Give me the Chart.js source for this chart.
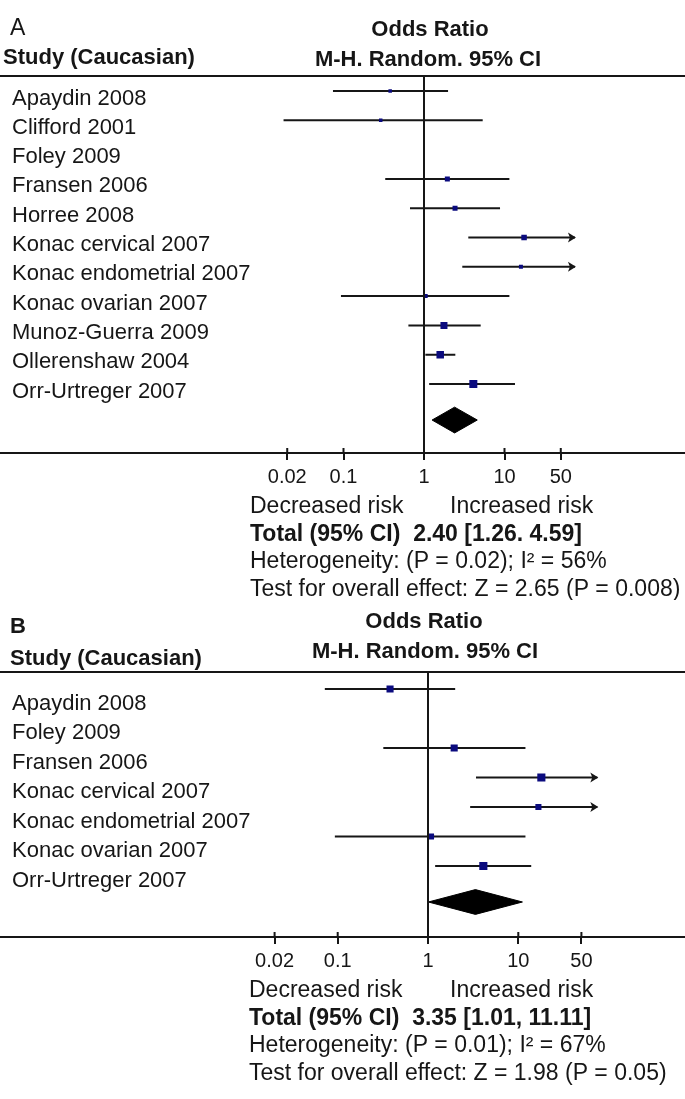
<!DOCTYPE html>
<html><head><meta charset="utf-8">
<script src="https://cdn.jsdelivr.net/npm/chart.js@4.4.1/dist/chart.umd.min.js"></script>
<style>
html,body{margin:0;padding:0;background:#fff;}
#wrap{position:relative;width:685px;height:1099px;overflow:hidden;background:#fff;}
canvas{position:absolute;left:0;}
</style></head><body>
<div id="wrap">
<canvas id="cA" width="685" height="600" style="top:0px"></canvas>
<canvas id="cB" width="685" height="499" style="top:600px"></canvas>
</div>
<script>
// ---------- DATA ----------
const axisTicks = [0.02, 0.1, 1, 10, 50];

// Panel A
const studiesA = ['Apaydin 2008','Clifford 2001','Foley 2009','Fransen 2006','Horree 2008','Konac cervical 2007','Konac endometrial 2007','Konac ovarian 2007','Munoz-Guerra 2009','Ollerenshaw 2004','Orr-Urtreger 2007'];
const orA     = [0.38, 0.29, null, 1.95, 2.43, 17.5, 16.0, 1.05, 1.77, 1.59, 4.10];
const loA     = [0.074, 0.018, null, 0.33, 0.67, 3.55, 2.99, 0.093, 0.64, 1.04, 1.16];
const hiA     = [1.99, 5.36, null, 11.5, 8.8, 86, 86, 11.5, 5.06, 2.45, 13.5];
const weightA = [4.0, 4.0, null, 8.2, 8.2, 9.9, 5.2, 5.2, 16.0, 18.4, 20.9];
const totalA  = [2.40, 1.26, 4.59];
const summaryA = ['Total (95% CI)  2.40 [1.26. 4.59]', 'Heterogeneity: (P = 0.02); I\u00B2 = 56%', 'Test for overall effect: Z = 2.65 (P = 0.008)'];

// Panel B
const studiesB = ['Apaydin 2008','Foley 2009','Fransen 2006','Konac cervical 2007','Konac endometrial 2007','Konac ovarian 2007','Orr-Urtreger 2007'];
const orB     = [0.38, null, 1.95, 18.0, 16.7, 1.08, 4.10];
const loB     = [0.072, null, 0.32, 3.4, 2.93, 0.093, 1.2];
const hiB     = [2.0, null, 12.0, 95, 95, 12.0, 13.9];
const weightB = [16.4, null, 16.4, 21.5, 12.1, 12.1, 21.5];
const totalB  = [3.35, 1.01, 11.11];
const summaryB = ['Total (95% CI)  3.35 [1.01, 11.11]', 'Heterogeneity: (P = 0.01); I\u00B2 = 67%', 'Test for overall effect: Z = 1.98 (P = 0.05)'];

// ---------- STYLE / BUILD ----------
const FONT = 'Liberation Sans, Arial, sans-serif';
const INK = '#161616';
const SQ = '#0b0b7e';
const X_MIN = 0.015, X_MAX = 75;

function buildForest(id, d, lay) {
  const L = lay.onePx + lay.decade * Math.log10(X_MIN);
  const R = lay.onePx + lay.decade * Math.log10(X_MAX);
  const yMin = (lay.top - lay.row0) / lay.step;
  const yMax = (lay.axisY - lay.row0) / lay.step;
  const datasets = [];
  d.studies.forEach((s, i) => {
    if (d.lo[i] == null) return;
    datasets.push({type:'line', data:[{x:d.lo[i], y:i},{x:d.hi[i], y:i}], borderColor:INK, borderWidth:2,
      pointRadius:0, pointHoverRadius:0, showLine:true, fill:false, order:3});
  });
  const idx = d.or.map((v,i)=> v==null?null:i).filter(v=>v!==null);
  datasets.push({type:'scatter', data: idx.map(i=>({x:d.or[i], y:i})), pointStyle:'rect',
    pointRadius: idx.map(i=> 1.75*Math.sqrt(d.weight[i]) / Math.SQRT2),
    pointHoverRadius: idx.map(i=> 1.75*Math.sqrt(d.weight[i]) / Math.SQRT2),
    backgroundColor:SQ, borderWidth:0, order:1});
  const dy = lay.diamondRow, h = lay.diamondHalf;
  datasets.push({type:'line', data:[{x:d.total[1],y:dy},{x:d.total[0],y:dy-h},{x:d.total[2],y:dy},{x:d.total[0],y:dy+h},{x:d.total[1],y:dy}],
    borderColor:'#000', backgroundColor:'#000', borderWidth:1, pointRadius:0, fill:'shape', tension:0, order:2});

  const deco = {
    id:'deco'+id,
    afterDraw(chart) {
      const ctx = chart.ctx, ca = chart.chartArea, xs = chart.scales.x, ys = chart.scales.y;
      ctx.save();
      ctx.strokeStyle = INK; ctx.lineWidth = 2;
      ctx.beginPath();
      ctx.moveTo(0, ca.top); ctx.lineTo(chart.width, ca.top);
      ctx.moveTo(0, ca.bottom); ctx.lineTo(chart.width, ca.bottom);
      const x1 = xs.getPixelForValue(1);
      ctx.moveTo(x1, ca.top); ctx.lineTo(x1, ca.bottom);
      axisTicks.forEach(v => { const px = xs.getPixelForValue(v); ctx.moveTo(px, ca.bottom - 5); ctx.lineTo(px, ca.bottom); });
      ctx.stroke();
      ctx.fillStyle = INK;
      d.hi.forEach((v,i) => {
        if (v != null && v > xs.max) {
          const px = xs.getPixelForValue(xs.max), py = ys.getPixelForValue(i);
          ctx.beginPath(); ctx.moveTo(px+1, py); ctx.lineTo(px-7, py-5); ctx.lineTo(px-5, py); ctx.lineTo(px-7, py+5); ctx.closePath(); ctx.fill();
        }
      });
      ctx.fillStyle = INK; ctx.textBaseline = 'alphabetic';
      lay.texts.forEach(t => { ctx.font = t[3]; ctx.textAlign = t[4] || 'left'; ctx.fillText(t[0], t[1], t[2]); });
      const b = ca.bottom;
      ctx.textAlign = 'left';
      ctx.font = '23px ' + FONT;
      ctx.fillText('Decreased risk', lay.textX, b + 60);
      ctx.fillText('Increased risk', lay.incX, b + 60);
      ctx.font = 'bold 23px ' + FONT;
      ctx.fillText(d.summary[0], lay.textX, b + 88);
      ctx.font = '23px ' + FONT;
      ctx.fillText(d.summary[1], lay.textX, b + 115);
      ctx.fillText(d.summary[2], lay.textX, b + 143);
      ctx.restore();
    }
  };

  const H = lay.H;
  return new Chart(document.getElementById(id), {
    type:'scatter',
    data:{datasets},
    options:{
      responsive:false, animation:false, devicePixelRatio:1,
      layout:{padding:{left:lay.padLeft, right:685 - R, top:lay.top, bottom:H - lay.axisY - 40}},
      plugins:{legend:{display:false}, tooltip:{enabled:false}},
      scales:{
        x:{type:'logarithmic', min:X_MIN, max:X_MAX,
          afterBuildTicks: sc => { sc.ticks = axisTicks.map(v=>({value:v})); },
          afterFit: sc => { sc.height = 40; },
          ticks:{callback: v => String(v), font:{family:FONT, size:20}, color:INK, padding:5, autoSkip:false, maxRotation:0, minRotation:0},
          grid:{display:true, drawOnChartArea:false, drawTicks:true, tickLength:7, color:INK, lineWidth:2},
          border:{display:false}},
        y:{type:'linear', reverse:true, min:yMin, max:yMax,
          afterBuildTicks: sc => { sc.ticks = d.studies.map((s,i)=>({value:i})); },
          afterFit: sc => { sc.width = L - lay.padLeft; },
          ticks:{callback: v => d.studies[v], font:{family:FONT, size:22}, color:INK, crossAlign:'far', labelOffset:lay.labelOffset, autoSkip:false, padding:0},
          grid:{display:false}, border:{display:false}}
      }
    },
    plugins:[deco]
  });
}

buildForest('cA', {studies:studiesA, or:orA, lo:loA, hi:hiA, weight:weightA, total:totalA, summary:summaryA}, {
  H:600, top:76, axisY:453, row0:91, step:29.3, onePx:424, decade:80.5, padLeft:12, labelOffset:7.5,
  diamondRow:11.23, diamondHalf:0.44, textX:250, incX:450,
  texts:[
    ['A', 10, 35, '23px ' + FONT],
    ['Odds Ratio', 430, 36, 'bold 22px ' + FONT, 'center'],
    ['Study (Caucasian)', 3, 64, 'bold 22px ' + FONT],
    ['M-H. Random. 95% CI', 428, 66, 'bold 22px ' + FONT, 'center']
  ]
});

buildForest('cB', {studies:studiesB, or:orB, lo:loB, hi:hiB, weight:weightB, total:totalB, summary:summaryB}, {
  H:499, top:72, axisY:337, row0:89, step:29.5, onePx:428, decade:90.3, padLeft:12, labelOffset:14.5,
  diamondRow:7.22, diamondHalf:0.42, textX:249, incX:450,
  texts:[
    ['B', 10, 33, 'bold 22px ' + FONT],
    ['Odds Ratio', 424, 28, 'bold 22px ' + FONT, 'center'],
    ['Study (Caucasian)', 10, 65, 'bold 22px ' + FONT],
    ['M-H. Random. 95% CI', 425, 58, 'bold 22px ' + FONT, 'center']
  ]
});
</script>
</body></html>
